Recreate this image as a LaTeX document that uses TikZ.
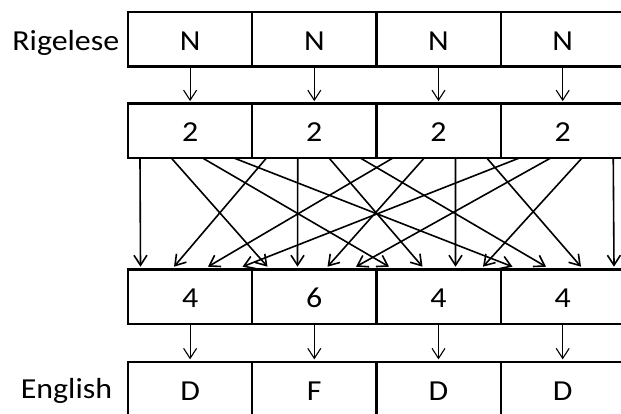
\documentclass[tikz,border=0pt]{standalone}
\usepackage{fontspec}
\setmainfont{Carlito}[FakeStretch=1.1]
\usetikzlibrary{arrows.meta,calc}
\begin{document}
\begin{tikzpicture}[x=1pt,y=-1pt,
  cell/.style={draw, line width=2.2pt, minimum width=124.2pt, minimum height=54.5pt,
    inner sep=0pt, outer sep=0pt, text height=22pt, text depth=0pt,
    font=\fontsize{29}{34}\selectfont},
  lab/.style={font=\fontsize{29}{34}\selectfont, inner sep=0pt, anchor=base},
  thinarrow/.style={line width=1.1pt, -{Straight Barb[length=10pt,width=13pt]}, shorten >=2.4pt},
  crossarrow/.style={line width=1.6pt, -{Straight Barb[length=10pt,width=13pt]}}]
\useasboundingbox (0,0) rectangle (621,413);
\clip (0,0) rectangle (621,413);
% rows of cells
\foreach \t [count=\k from 1] in {N,N,N,N}
  \node[cell] (r1c\k) at (190.1+124.2*\k-124.2,39.2) {\t};
\foreach \t [count=\k from 1] in {2,2,2,2}
  \node[cell] (r2c\k) at (190.1+124.2*\k-124.2,130.8) {\t};
\foreach \t [count=\k from 1] in {4,6,4,4}
  \node[cell] (r3c\k) at (190.1+124.2*\k-124.2,296.8) {\t};
\foreach \t [count=\k from 1] in {D,F,D,D}
  \node[cell] (r4c\k) at (190.1+124.2*\k-124.2,389) {\t};
% side labels
\node[lab] (rig) at (65.8,50) {Rigelese};
\node[lab] (eng) at (66.5,398.3) {English};
% short arrows
\foreach \k in {1,...,4} {
  \draw[thinarrow] (r1c\k.south) -- (r2c\k.north);
  \draw[thinarrow] (r3c\k.south) -- (r4c\k.north);
}
% crossing arrows (transpose)
\foreach \i in {0,...,15}
  \coordinate (s\i) at (140+31.55*\i,158.3);
\foreach \x [count=\j from 0] in {140.5,174,208,242.5,267.5,297.5,327.5,356,389,422.5,455.5,483,512.5,546,581,614}
  \coordinate (e\j) at (\x,266.7);
\foreach \a in {0,...,3} {
  \foreach \b in {0,...,3} {
    \pgfmathtruncatemacro\src{4*\a+\b}
    \pgfmathtruncatemacro\dst{4*\b+\a}
    \draw[crossarrow] (s\src) -- (e\dst);
  }
}
\end{tikzpicture}
\end{document}
